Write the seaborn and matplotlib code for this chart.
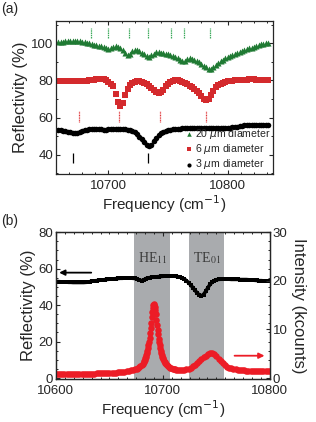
import numpy as np
import pandas as pd
import matplotlib
matplotlib.use("Agg")
import matplotlib.pyplot as plt
from matplotlib.ticker import AutoMinorLocator, MultipleLocator
import seaborn as sns

# ---------------- data, panel (a) ----------------
freq_a = np.arange(10658, 10836, 2)
refl_20um = [
    100.6, 100.8, 100.9, 101.0, 101.1, 101.2, 101.3, 101.3, 101.2, 101.0,
    100.8, 100.5, 100.2, 99.9, 99.6, 99.3, 99.0, 98.7, 98.4, 98.0,
    97.5, 97.1, 97.3, 98.2, 98.4, 98.0, 97.3, 96.4, 94.9, 93.8,
    94.3, 95.8, 96.6, 96.3, 95.6, 94.8, 94.0, 93.2, 92.8, 93.5,
    94.5, 95.2, 95.3, 95.0, 94.6, 94.3, 94.0, 93.7, 93.3, 92.7,
    92.0, 91.2, 90.5, 90.6, 91.5, 92.0, 91.8, 91.2, 90.5, 89.8,
    89.0, 88.0, 87.0, 86.3, 86.4, 87.3, 88.4, 89.5, 90.4, 91.2,
    91.9, 92.5, 93.1, 93.7, 94.3, 94.8, 95.3, 95.8, 96.3, 96.7,
    97.2, 97.7, 98.2, 98.7, 99.1, 99.5, 99.8, 100.1, 100.2,
]
refl_6um = [
    79.8, 79.7, 79.6, 79.5, 79.5, 79.5, 79.5, 79.6, 79.7, 79.8,
    79.9, 79.9, 79.9, 80.0, 80.2, 80.4, 80.6, 80.8, 80.8, 80.6,
    80.0, 79.2, 78.3, 76.8, 72.5, 68.5, 66.2, 67.8, 72.0, 75.5,
    77.5, 78.5, 79.2, 79.6, 79.6, 79.3, 78.8, 78.0, 77.0, 75.9,
    74.8, 74.0, 73.5, 73.8, 75.0, 76.8, 78.3, 79.3, 79.8, 80.0,
    80.0, 79.7, 79.3, 78.7, 78.0, 77.2, 76.3, 75.3, 74.2, 73.0,
    71.6, 70.3, 69.6, 70.0, 72.0, 74.5, 76.3, 77.4, 78.2, 78.8,
    79.2, 79.5, 79.7, 79.9, 80.0, 80.1, 80.2, 80.3, 80.4, 80.5,
    80.6, 80.6, 80.6, 80.5, 80.5, 80.5, 80.4, 80.4, 80.4,
]
refl_3um = [
    53.2, 53.1, 53.0, 52.8, 52.5, 52.1, 51.7, 51.6, 51.8, 52.3,
    52.8, 53.2, 53.5, 53.7, 53.9, 54.0, 53.9, 53.8, 53.7, 53.6,
    53.6, 53.7, 53.8, 53.9, 53.9, 53.9, 53.8, 53.8, 53.7, 53.6,
    53.3, 52.8, 52.1, 51.1, 49.8, 48.3, 46.8, 45.4, 44.6, 45.4,
    47.3, 49.3, 50.8, 51.8, 52.5, 53.0, 53.3, 53.6, 53.8, 53.9,
    54.0, 54.1, 54.2, 54.3, 54.3, 54.4, 54.4, 54.4, 54.4, 54.4,
    54.4, 54.4, 54.4, 54.4, 54.4, 54.4, 54.4, 54.5, 54.5, 54.6,
    54.6, 54.7, 54.7, 54.8, 54.9, 55.1, 55.4, 55.7, 55.9, 56.0,
    56.1, 56.2, 56.2, 56.2, 56.2, 56.2, 56.2, 56.2, 56.1,
]
labels_a = ["20 $\\mu$m diameter", "6 $\\mu$m diameter", "3 $\\mu$m diameter"]
marks_20um = [10685, 10700, 10717.5, 10733, 10752.5, 10763.5, 10785]
marks_6um = [10675, 10709, 10743.5, 10781.5]
marks_3um = [10670, 10733.5]

# ---------------- data, panel (b) ----------------
freq_b = np.arange(10600, 10802, 2)
refl_b = [
    52.9, 52.9, 52.8, 52.7, 52.6, 52.6, 52.5, 52.5, 52.4, 52.4,
    52.4, 52.4, 52.4, 52.4, 52.5, 52.6, 52.9, 53.1, 53.3, 53.4,
    53.6, 53.7, 53.8, 54.0, 54.1, 54.2, 54.3, 54.4, 54.5, 54.6,
    54.7, 54.7, 54.8, 54.8, 54.8, 54.8, 54.7, 54.6, 54.3, 53.8,
    53.4, 53.8, 54.5, 54.9, 55.1, 55.3, 55.4, 55.5, 55.6, 55.7,
    55.8, 55.9, 55.9, 56.0, 56.0, 55.9, 55.8, 55.6, 55.3, 54.9,
    54.3, 53.4, 52.3, 51.0, 49.6, 48.1, 46.7, 45.6, 45.1, 45.8,
    47.5, 49.5, 51.3, 52.6, 53.4, 53.9, 54.1, 54.2, 54.2, 54.2,
    54.2, 54.2, 54.1, 54.1, 54.1, 54.1, 54.0, 54.0, 54.0, 54.0,
    53.9, 53.8, 53.7, 53.6, 53.5, 53.4, 53.4, 53.3, 53.3, 53.2,
    53.2,
]
freq_pl = np.concatenate([np.arange(10600, 10676, 2),
                          np.arange(10676, 10682, 1),
                          np.arange(10682, 10702.5, 0.5),
                          np.arange(10703, 10713, 1),
                          np.arange(10714, 10802, 2)])
intensity_pl = [
    0.75, 0.75, 0.76, 0.77, 0.78, 0.79, 0.80, 0.81, 0.82, 0.83,
    0.84, 0.85, 0.86, 0.87, 0.88, 0.90, 0.91, 0.92, 0.93, 0.95,
    0.96, 0.98, 1.00, 1.02, 1.04, 1.06, 1.08, 1.10, 1.13, 1.16,
    1.20, 1.25, 1.32, 1.38, 1.46, 1.56, 1.72, 1.85,
    # 1 cm-1 steps, 10676-10681
    1.95, 2.05, 2.2, 2.4, 2.7, 2.95,
    # 0.5 cm-1 steps, 10682-10702
    3.4, 3.6, 3.8, 4.1, 4.4, 4.8, 5.2, 5.6, 6.1, 6.8,
    7.5, 8.3, 9.2, 10.3, 11.4, 12.5, 13.6, 14.4, 15.0, 15.2,
    15.0, 14.6, 14.0, 13.1, 12.0, 11.0, 9.9, 9.0, 8.1, 7.4,
    6.7, 6.1, 5.6, 5.2, 4.8, 4.4, 4.1, 3.85, 3.6, 3.4,
    3.2,
    # 1 cm-1 steps, 10703-10712
    2.9, 2.6, 2.4, 2.25, 2.1, 2.0, 1.9, 1.85, 1.8, 1.75,
    # 2 cm-1 steps, 10714-10800
    1.7, 1.65, 1.65, 1.7, 1.8, 1.95, 2.15, 2.4, 2.7, 3.05,
    3.45, 3.85, 4.25, 4.6, 4.9, 5.1, 5.2, 5.05, 4.6, 4.0,
    3.45, 3.0, 2.65, 2.35, 2.15, 2.0, 1.9, 1.8, 1.72, 1.66,
    1.62, 1.58, 1.55, 1.52, 1.5, 1.48, 1.46, 1.45, 1.44, 1.43,
    1.42, 1.41, 1.4, 1.4,
]
band_he11 = (10673.4, 10707.0)
band_te01 = (10724.0, 10757.5)
band_labels = ["HE$_{11}$", "TE$_{01}$"]

# ---------------- style ----------------
sns.set_style("ticks")
plt.rcParams["font.family"] = ["Liberation Sans", "DejaVu Sans"]
plt.rcParams.update({
    "xtick.direction": "in", "ytick.direction": "in",
    "xtick.top": True, "ytick.right": True,
    "xtick.major.size": 3.2, "ytick.major.size": 3.2,
    "xtick.minor.size": 1.6, "ytick.minor.size": 1.6,
    "xtick.major.width": 0.8, "ytick.major.width": 0.8,
    "xtick.minor.width": 0.7, "ytick.minor.width": 0.7,
    "axes.linewidth": 0.9,
    "xtick.labelsize": 9.5, "ytick.labelsize": 9.5,
    "xtick.major.pad": 4.5, "ytick.major.pad": 2.0,
})

GREEN = "#1f7a33"
RED_A = "#d42a2d"
RED_B = "#ec1c26"
GRAY = "#a9abae"

fig = plt.figure(figsize=(3.16, 4.22), dpi=100)
ax1 = fig.add_axes([0.177, 0.5877, 0.687, 0.3626])
ax2 = fig.add_axes([0.177, 0.1019, 0.677, 0.3480])

# ---------- panel (a) ----------
df_a = pd.DataFrame({"freq": freq_a, "d20": refl_20um, "d6": refl_6um, "d3": refl_3um})
sns.scatterplot(data=df_a, x="freq", y="d20", marker="^", s=19, color=GREEN,
                linewidth=0, ax=ax1, label=labels_a[0])
sns.scatterplot(data=df_a, x="freq", y="d6", marker="s", s=14, color=RED_A,
                linewidth=0, ax=ax1, label=labels_a[1])
sns.scatterplot(data=df_a, x="freq", y="d3", marker="o", s=16, color="black",
                linewidth=0, ax=ax1, label=labels_a[2])

ax1.vlines(marks_20um, 102.8, 108.2, colors="#3daa5c", linewidth=0.9,
           linestyles=(0, (1.2, 0.6)))
ax1.vlines(marks_6um, 57.5, 63.7, colors="#e0363a", linewidth=0.9,
           linestyles=(0, (0.8, 0.5)))
ax1.vlines(marks_3um, 35.4, 41.1, colors="black", linewidth=0.9)

ax1.set_xlim(10656, 10838)
ax1.set_ylim(29.7, 112)
ax1.xaxis.set_major_locator(MultipleLocator(100))
ax1.xaxis.set_minor_locator(AutoMinorLocator(9))
ax1.yaxis.set_major_locator(MultipleLocator(20))
ax1.yaxis.set_minor_locator(AutoMinorLocator(2))
ax1.set_xlabel("Frequency (cm$^{-1}$)", fontsize=11, labelpad=0.5)
ax1.set_ylabel("Reflectivity (%)", fontsize=12, labelpad=2)
ax1.legend(loc="lower right", frameon=False, fontsize=7.6, handletextpad=0.05,
           labelspacing=0.12, borderpad=0.1, borderaxespad=0.15,
           handlelength=0.9, markerscale=0.75)

# ---------- panel (b) ----------
ax2.axvspan(*band_he11, color=GRAY, lw=0, zorder=0)
ax2.axvspan(*band_te01, color=GRAY, lw=0, zorder=0)
for band, lab in zip([band_he11, band_te01], band_labels):
    ax2.text((band[0] + band[1]) / 2, 66, lab, ha="center", va="center",
             fontsize=10, color="#3a3a3a", family="Liberation Serif",
             math_fontfamily="stix")

df_b = pd.DataFrame({"freq": freq_b, "refl": refl_b})
sns.lineplot(data=df_b, x="freq", y="refl", color="black", lw=2.6, marker="s",
             markersize=2.6, markeredgewidth=0, ax=ax2)
ax2.annotate("", xy=(10603, 57.8), xytext=(10633, 57.8),
             arrowprops=dict(arrowstyle="-|>", color="black", lw=1.3,
                             mutation_scale=8, shrinkA=0, shrinkB=0))

ax2.set_xlim(10600, 10800)
ax2.set_ylim(-0.5, 80)
ax2.xaxis.set_major_locator(MultipleLocator(100))
ax2.xaxis.set_minor_locator(AutoMinorLocator(12))
ax2.yaxis.set_major_locator(MultipleLocator(20))
ax2.yaxis.set_minor_locator(AutoMinorLocator(4))
ax2.tick_params(axis="y", right=False, which="both")
ax2.set_xlabel("Frequency (cm$^{-1}$)", fontsize=11, labelpad=0.5)
ax2.set_ylabel("Reflectivity (%)", fontsize=12, labelpad=2)

ax3 = ax2.twinx()
df_pl = pd.DataFrame({"freq": freq_pl, "pl": intensity_pl})
sns.scatterplot(data=df_pl, x="freq", y="pl", marker="o", s=22, color=RED_B,
                linewidth=0, ax=ax3)
ax3.annotate("", xy=(10795, 4.6), xytext=(10767, 4.6),
             arrowprops=dict(arrowstyle="-|>", color=RED_B, lw=1.3,
                             mutation_scale=8, shrinkA=0, shrinkB=0))
ax3.set_ylim(-0.5 * 30 / 80, 30)
ax3.yaxis.set_major_locator(MultipleLocator(10))
ax3.yaxis.set_minor_locator(MultipleLocator(1.875))
ax3.tick_params(axis="y", direction="in", right=True, which="both")
ax3.set_ylabel("Intensity (kcounts)", fontsize=12, rotation=270, labelpad=13)
ax3.set_xlabel("")

fig.text(0.005, 0.995, "(a)", fontsize=10, ha="left", va="top")
fig.text(0.005, 0.493, "(b)", fontsize=10, ha="left", va="top")

fig.savefig("out.png", dpi=100)
